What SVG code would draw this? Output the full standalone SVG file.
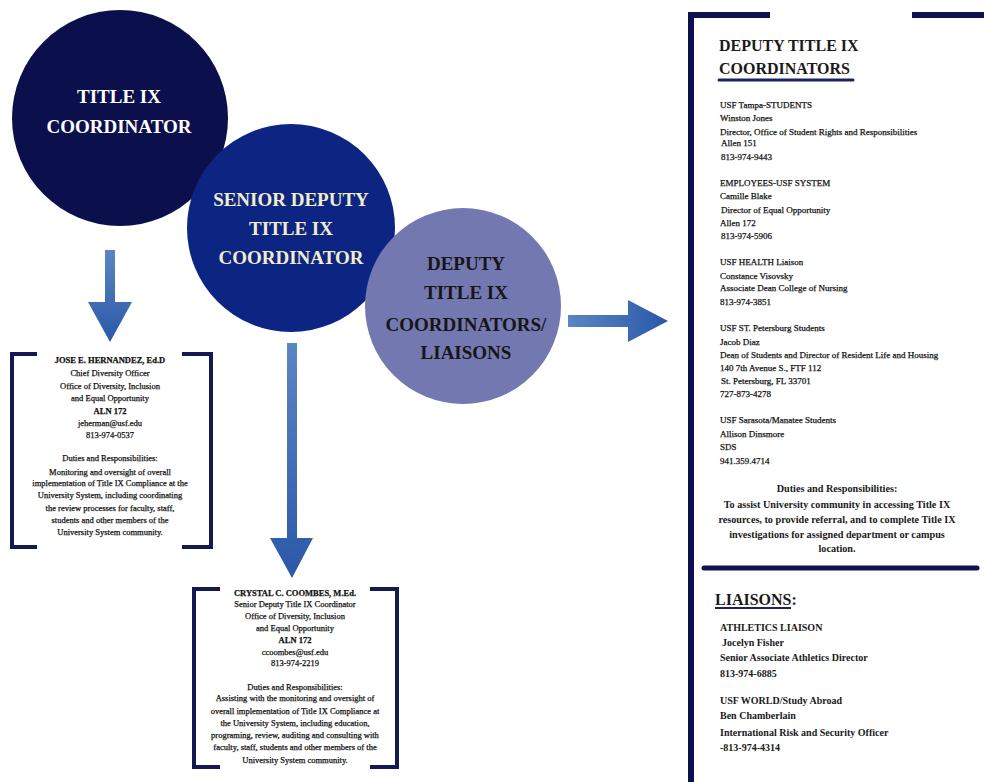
<svg xmlns="http://www.w3.org/2000/svg" width="984" height="782" viewBox="0 0 984 782">
<defs>
<linearGradient id="gv" x1="0" y1="0" x2="0" y2="1">
<stop offset="0" stop-color="#5b86c4"/>
<stop offset="1" stop-color="#2a58a8"/>
</linearGradient>
<linearGradient id="gh" x1="0" y1="0" x2="1" y2="0">
<stop offset="0" stop-color="#5b86c4"/>
<stop offset="1" stop-color="#2a58a8"/>
</linearGradient>
</defs>
<style>
text{font-family:"Liberation Serif","Times New Roman",serif}
.big{font-weight:bold;font-size:19px;text-anchor:middle}
.sm{font-size:8.5px;fill:#111;stroke:#111;stroke-width:0.25;text-anchor:middle}
.rp{font-size:9px;fill:#111;stroke:#111;stroke-width:0.25}
.rd{font-size:10.2px;font-weight:bold;fill:#1a1a1a;text-anchor:middle}
.rl{font-size:10px;font-weight:bold;fill:#1a1a1a}
.hd{font-weight:bold;font-size:16px;fill:#1a1a1a}
.br{fill:none;stroke:#141a4f;stroke-width:4}
.nv{fill:none;stroke:#0d1150;stroke-width:6}
</style>
<rect width="984" height="782" fill="#ffffff"/>

<g id="connectors">
<path d="M105,250 H115 V302 H132 L110,342 L88,302 H105 Z" fill="url(#gv)"/>
<path d="M287,343 H297 V538 H313 L292,578 L270,538 H287 Z" fill="url(#gv)"/>
<path d="M568,315 H628 V300 L668,321 L628,342 V327 H568 Z" fill="url(#gh)"/>
</g>

<g id="title-ix-coordinator">
<circle cx="120" cy="118" r="108" fill="#0b0f4b"/>
<text class="big" x="119" y="103" fill="#ffffff">TITLE IX</text>
<text class="big" x="119" y="133" fill="#ffffff">COORDINATOR</text>
</g>

<g id="senior-deputy">
<circle cx="291" cy="228" r="104" fill="#0d2582"/>
<text class="big" x="291" y="206" fill="#f2edcc">SENIOR DEPUTY</text>
<text class="big" x="291" y="235" fill="#f2edcc">TITLE IX</text>
<text class="big" x="291" y="264" fill="#f2edcc">COORDINATOR</text>
</g>

<g id="deputy-coordinators">
<circle cx="463" cy="306" r="98" fill="#7478b0"/>
<text class="big" x="466" y="270" fill="#161616">DEPUTY</text>
<text class="big" x="466" y="299" fill="#161616">TITLE IX</text>
<text class="big" x="466" y="331" fill="#161616">COORDINATORS/</text>
<text class="big" x="466" y="359" fill="#161616">LIAISONS</text>
</g>

<g id="hernandez-box">
<path class="br" d="M37,354 H12 V547 H37"/>
<path class="br" d="M182,354 H211 V547 H182"/>
<text class="sm" x="110" y="363" font-weight="bold">JOSE E. HERNANDEZ, Ed.D</text>
<text class="sm" x="110" y="376">Chief Diversity Officer</text>
<text class="sm" x="110" y="389">Office of Diversity, Inclusion</text>
<text class="sm" x="110" y="401">and Equal Opportunity</text>
<text class="sm" x="110" y="414" font-weight="bold">ALN 172</text>
<text class="sm" x="110" y="426">jeherman@usf.edu</text>
<text class="sm" x="110" y="438">813-974-0537</text>
<text class="sm" x="110" y="461">Duties and Responsibilities:</text>
<text class="sm" x="110" y="475">Monitoring and oversight of overall</text>
<text class="sm" x="110" y="486">implementation of Title IX Compliance at the</text>
<text class="sm" x="110" y="498">University System, including coordinating</text>
<text class="sm" x="110" y="511">the review processes for faculty, staff,</text>
<text class="sm" x="110" y="523">students and other members of the</text>
<text class="sm" x="110" y="535">University System community.</text>
</g>

<g id="coombes-box">
<path class="br" d="M220,589 H194 V767 H220"/>
<path class="br" d="M370,589 H397 V767 H370"/>
<text class="sm" x="295" y="596" font-weight="bold">CRYSTAL C. COOMBES, M.Ed.</text>
<text class="sm" x="295" y="607">Senior Deputy Title IX Coordinator</text>
<text class="sm" x="295" y="619">Office of Diversity, Inclusion</text>
<text class="sm" x="295" y="631">and Equal Opportunity</text>
<text class="sm" x="295" y="643" font-weight="bold">ALN 172</text>
<text class="sm" x="295" y="655">ccoombes@usf.edu</text>
<text class="sm" x="295" y="666">813-974-2219</text>
<text class="sm" x="295" y="690">Duties and Responsibilities:</text>
<text class="sm" x="295" y="701">Assisting with the monitoring and oversight of</text>
<text class="sm" x="295" y="714">overall implementation of Title IX Compliance at</text>
<text class="sm" x="295" y="726">the University System, including education,</text>
<text class="sm" x="295" y="738">programing, review, auditing and consulting with</text>
<text class="sm" x="295" y="750">faculty, staff, students and other members of the</text>
<text class="sm" x="295" y="763">University System community.</text>
</g>

<g id="deputy-panel">
<path class="nv" d="M770,15 H691 V782"/>
<path class="nv" d="M912,15 H984"/>
<line x1="704" y1="568" x2="977" y2="568" stroke="#0d1150" stroke-width="5" stroke-linecap="round"/>
<text class="hd" x="719" y="51">DEPUTY TITLE IX</text>
<text class="hd" x="719" y="74">COORDINATORS</text>
<line x1="719" y1="80" x2="853" y2="80" stroke="#1c2260" stroke-width="3" stroke-linecap="round"/>
<text class="rp" x="720" y="108">USF Tampa-STUDENTS</text>
<text class="rp" x="720" y="121">Winston Jones</text>
<text class="rp" x="720" y="135">Director, Office of Student Rights and Responsibilities</text>
<text class="rp" x="721" y="146">Allen 151</text>
<text class="rp" x="721" y="160">813-974-9443</text>
<text class="rp" x="720" y="186">EMPLOYEES-USF SYSTEM</text>
<text class="rp" x="720" y="199">Camille Blake</text>
<text class="rp" x="721" y="213">Director of Equal Opportunity</text>
<text class="rp" x="720" y="226">Allen 172</text>
<text class="rp" x="721" y="239">813-974-5906</text>
<text class="rp" x="720" y="265">USF HEALTH Liaison</text>
<text class="rp" x="720" y="279">Constance Visovsky</text>
<text class="rp" x="720" y="291">Associate Dean College of Nursing</text>
<text class="rp" x="720" y="305">813-974-3851</text>
<text class="rp" x="720" y="331">USF ST. Petersburg Students</text>
<text class="rp" x="720" y="345">Jacob Diaz</text>
<text class="rp" x="720" y="358">Dean of Students and Director of Resident Life and Housing</text>
<text class="rp" x="720" y="371">140 7th Avenue S., FTF 112</text>
<text class="rp" x="721" y="384">St. Petersburg, FL 33701</text>
<text class="rp" x="720" y="397">727-873-4278</text>
<text class="rp" x="720" y="423">USF Sarasota/Manatee Students</text>
<text class="rp" x="720" y="437">Allison Dinsmore</text>
<text class="rp" x="720" y="450">SDS</text>
<text class="rp" x="720" y="464">941.359.4714</text>
<text class="rd" x="837" y="492">Duties and Responsibilities:</text>
<text class="rd" x="837" y="508">To assist University community in accessing Title IX</text>
<text class="rd" x="837" y="523">resources, to provide referral, and to complete Title IX</text>
<text class="rd" x="837" y="538">investigations for assigned department or campus</text>
<text class="rd" x="837" y="552">location.</text>
<text class="hd" x="715" y="605">LIAISONS:</text>
<line x1="715" y1="608" x2="791" y2="608" stroke="#1c2260" stroke-width="2"/>
<text class="rl" x="720" y="631">ATHLETICS LIAISON</text>
<text class="rl" x="722" y="646">Jocelyn Fisher</text>
<text class="rl" x="720" y="661">Senior Associate Athletics Director</text>
<text class="rl" x="720" y="677">813-974-6885</text>
<text class="rl" x="720" y="704">USF WORLD/Study Abroad</text>
<text class="rl" x="720" y="719">Ben Chamberlain</text>
<text class="rl" x="720" y="736">International Risk and Security Officer</text>
<text class="rl" x="720" y="751">-813-974-4314</text>
</g>
</svg>
